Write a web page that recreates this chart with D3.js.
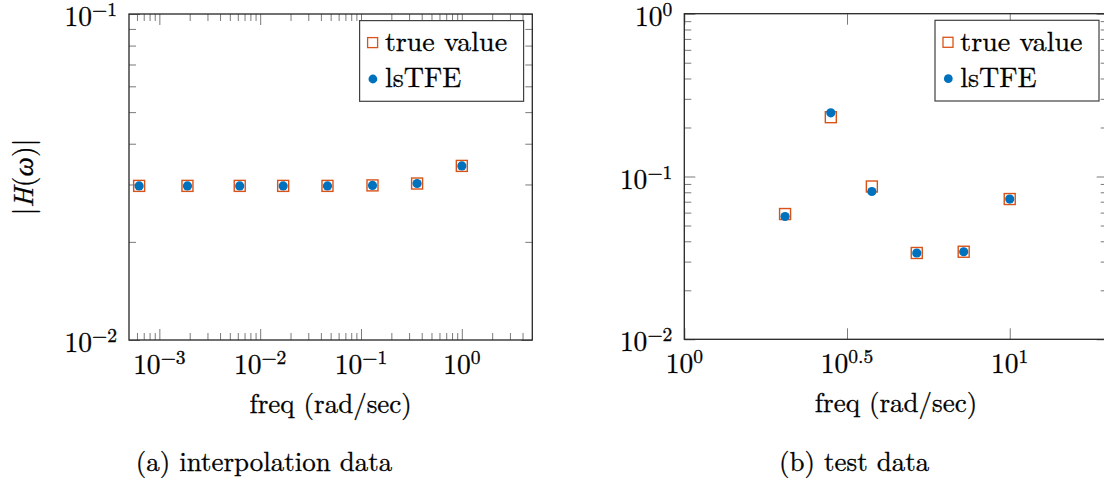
<!DOCTYPE html>
<html>
<head>
<meta charset="utf-8">
<script src="https://cdn.jsdelivr.net/npm/d3@7"></script>
<style>
  body { margin: 0; background: #fff; }
  svg { display: block; }
</style>
</head>
<body>
<script>
// (a) interpolation data
var freqA = [6.3e-4, 1.9e-3, 6.27e-3, 1.69e-2, 4.65e-2, 0.13, 0.36, 1.0];
var trueA = [0.0297, 0.0297, 0.0297, 0.0297, 0.0297, 0.0298, 0.0302, 0.0342];
var estA  = [0.0297, 0.0297, 0.0297, 0.0297, 0.0297, 0.0298, 0.0302, 0.0342];

// (b) test data
var freqB = [2.04, 2.82, 3.77, 5.18, 7.22, 10.0];
var trueB = [0.0588, 0.2314, 0.0868, 0.0339, 0.0345, 0.0727];
var estB  = [0.0568, 0.246, 0.0809, 0.0339, 0.0345, 0.0727];

// tick labels: [value, exponent text]
var xTicksA = [[1e-3, "−3"], [1e-2, "−2"], [1e-1, "−1"], [1, "0"]];
var yTicksA = [[1e-2, "−2"], [1e-1, "−1"]];
var xTicksB = [[1, "0"], [Math.pow(10, 0.5), "0.5"], [10, "1"]];
var yTicksB = [[1e-2, "−2"], [1e-1, "−1"], [1, "0"]];

var legendNames = ["true value", "lsTFE"];
var orange = "#D95319", blue = "#0072BD";
var font = "'Latin Modern Roman', 'Liberation Serif', serif";

function init()
{
    var w = 1104;
    var h = 484;

    var svg = d3.select("body")
                .append("svg")
                .attr("width", w)
                .attr("height", h);

    function minorTicks(domain)
    {
        var out = [];
        var lo = Math.floor(Math.log10(domain[0])), hi = Math.ceil(Math.log10(domain[1]));
        for (var e = lo; e <= hi; e++) {
            for (var m = 2; m <= 9; m++) {
                var v = m * Math.pow(10, e);
                if (v > domain[0] * 1.0001 && v < domain[1] * 0.9999) out.push(v);
            }
        }
        return out;
    }

    // text in the latex look, a touch heavier than the raw font
    function txt(g, size)
    {
        return g.append("text")
                .style("font-family", font)
                .style("font-size", size + "px")
                .style("fill", "#000")
                .style("stroke", "#000")
                .style("stroke-width", 0.3);
    }

    function powLabel(g, x, y, exp, anchor)
    {
        var t = txt(g, 27.5)
                 .attr("x", x)
                 .attr("y", y)
                 .attr("text-anchor", anchor);
        t.append("tspan").text("10");
        t.append("tspan")
         .attr("dy", -10)
         .style("font-size", "19.5px")
         .text(exp);
    }

    function panel(p)
    {
        var x = d3.scaleLog().domain(p.xDomain).range([p.left, p.right]);
        var y = d3.scaleLog().domain(p.yDomain).range([p.bottom, p.top]);
        var g = svg.append("g");

        // tick marks (inward, on all four sides)
        var xMajor = p.xTicks.map(function(d) { return d[0]; });
        var yMajor = p.yTicks.map(function(d) { return d[0]; });
        var xMinor = p.xMinor ? minorTicks(p.xDomain) : [];
        var yMinor = minorTicks(p.yDomain);

        function tickAxis(axis, vals, size, transform)
        {
            g.append("g")
             .attr("transform", transform)
             .call(axis.tickValues(vals).tickSize(size).tickFormat(""))
             .call(function(s) {
                s.select(".domain").remove();
                s.selectAll("line").attr("stroke", "#7a7a7a").attr("stroke-width", 1);
             });
        }
        tickAxis(d3.axisBottom(x), xMajor, -11, "translate(0," + p.bottom + ")");
        tickAxis(d3.axisBottom(x), xMinor, -7, "translate(0," + p.bottom + ")");
        tickAxis(d3.axisTop(x), xMajor, -11, "translate(0," + p.top + ")");
        tickAxis(d3.axisTop(x), xMinor, -7, "translate(0," + p.top + ")");
        tickAxis(d3.axisLeft(y), yMajor, -11, "translate(" + p.left + ",0)");
        tickAxis(d3.axisLeft(y), yMinor, -7, "translate(" + p.left + ",0)");
        tickAxis(d3.axisRight(y), yMajor, -11, "translate(" + p.right + ",0)");
        tickAxis(d3.axisRight(y), yMinor, -7, "translate(" + p.right + ",0)");

        // box
        g.append("rect")
         .attr("x", p.left)
         .attr("y", p.top)
         .attr("width", p.right - p.left)
         .attr("height", p.bottom - p.top)
         .attr("fill", "none")
         .attr("stroke", "#262626")
         .attr("stroke-width", 1.3);

        // tick labels
        p.xTicks.forEach(function(d) {
            powLabel(g, x(d[0]), p.bottom + 34, d[1], "middle");
        });
        p.yTicks.forEach(function(d) {
            powLabel(g, p.left - 12, y(d[0]) + 12, d[1], "end");
        });

        // axis label
        txt(g, 27)
         .attr("x", (p.left + p.right) / 2)
         .attr("y", p.bottom + 73)
         .attr("text-anchor", "middle")
         .text("freq (rad/sec)");

        if (p.ylabel) {
            var yl = txt(g, 27.5)
                      .attr("transform", "translate(33," + (p.top + p.bottom) / 2 + ") rotate(-90)")
                      .attr("text-anchor", "middle");
            yl.append("tspan").text("|");
            yl.append("tspan").style("font-style", "italic").text("H");
            yl.append("tspan").text("(");
            yl.append("tspan").style("font-style", "italic").text("ω");
            yl.append("tspan").text(")|");
        }

        // caption
        txt(g, 27)
         .attr("x", p.captionX)
         .attr("y", 470.7)
         .attr("text-anchor", "middle")
         .text(p.caption);

        // markers
        var marks = g.append("g");
        marks.selectAll("rect.sq")
            .data(p.freq)
            .enter()
            .append("rect")
            .attr("class", "sq")
            .attr("x", function(d) { return x(d) - 5.5; })
            .attr("y", function(d, i) { return y(p.truth[i]) - 5.5; })
            .attr("width", 11)
            .attr("height", 11)
            .attr("fill", "none")
            .attr("stroke", orange)
            .attr("stroke-width", 1.4);
        marks.selectAll("circle")
            .data(p.freq)
            .enter()
            .append("circle")
            .attr("cx", function(d) { return x(d); })
            .attr("cy", function(d, i) { return y(p.est[i]); })
            .attr("r", 4.6)
            .style("fill", blue);

        // legend
        var lx = p.right - 8.7 - 164, ly = p.top + 6.6;
        var lg = g.append("g").attr("transform", "translate(" + lx + "," + ly + ")");
        lg.append("rect")
          .attr("width", 164)
          .attr("height", 80.7)
          .attr("fill", "#fff")
          .attr("stroke", "#404040")
          .attr("stroke-width", 1.2);
        lg.append("rect")
          .attr("x", 13 - 5)
          .attr("y", 22 - 5)
          .attr("width", 10)
          .attr("height", 10)
          .attr("fill", "none")
          .attr("stroke", orange)
          .attr("stroke-width", 1.3);
        lg.append("circle")
          .attr("cx", 13.3)
          .attr("cy", 58.4)
          .attr("r", 4.4)
          .style("fill", blue);
        txt(lg, 28)
          .attr("x", 25.3)
          .attr("y", 30.4)
          .text(legendNames[0]);
        txt(lg, 28)
          .attr("x", 25.3)
          .attr("y", 66.4)
          .text(legendNames[1]);
    }

    panel({
        xDomain: [5e-4, 5], yDomain: [0.01, 0.1],
        left: 129, right: 532.3, top: 14, bottom: 340,
        xTicks: xTicksA, yTicks: yTicksA, xMinor: true, ylabel: true,
        freq: freqA, truth: trueA, est: estA,
        caption: "(a) interpolation data", captionX: 264
    });
    panel({
        xDomain: [1, 20], yDomain: [0.01, 1],
        left: 684.3, right: 1107.7, top: 13.7, bottom: 339.3,
        xTicks: xTicksB, yTicks: yTicksB, xMinor: false, ylabel: false,
        freq: freqB, truth: trueB, est: estB,
        caption: "(b) test data", captionX: 854.2
    });
}
window.onload = init;
</script>
</body>
</html>
